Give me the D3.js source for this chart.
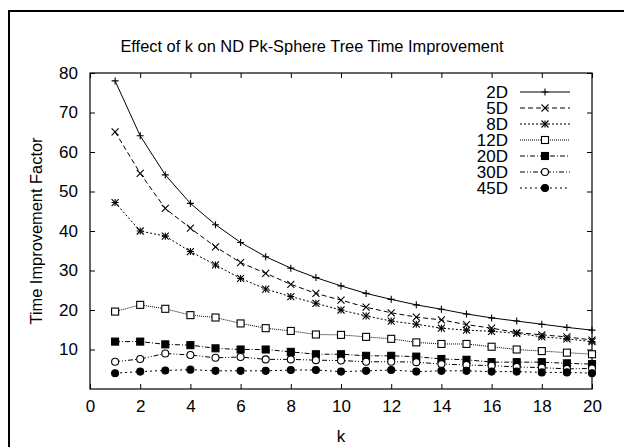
<!DOCTYPE html>
<html>
<head>
<meta charset="utf-8">
<script src="https://cdn.jsdelivr.net/npm/d3@7"></script>
<style>
  body { margin: 0; background: #fff; }
  svg { display: block; font-family: "Liberation Sans", Arial, sans-serif; }
</style>
</head>
<body>
<svg id="chart" width="624" height="447"></svg>
<script>
// values
var ks = d3.range(1, 21);
var d2  = [78.0, 64.1, 54.2, 47.0, 41.6, 37.1, 33.5, 30.6, 28.2, 26.1, 24.2, 22.7, 21.3, 20.2, 19.0, 18.0, 17.2, 16.4, 15.6, 14.9];
var d5  = [65.1, 54.6, 45.7, 40.7, 36.0, 32.0, 29.3, 26.5, 24.2, 22.5, 20.7, 19.3, 18.2, 17.5, 16.3, 15.4, 14.3, 13.7, 13.2, 12.4];
var d8  = [47.2, 40.0, 38.7, 34.8, 31.4, 28.0, 25.3, 23.4, 21.7, 20.0, 18.5, 17.2, 16.4, 15.4, 14.9, 14.6, 14.1, 13.2, 12.7, 12.0];
var d12 = [19.6, 21.3, 20.3, 18.7, 18.1, 16.6, 15.4, 14.7, 13.8, 13.7, 13.2, 12.7, 11.8, 11.4, 11.4, 10.7, 10.0, 9.6, 9.2, 8.8];
var d20 = [12.0, 12.0, 11.3, 11.1, 10.3, 10.0, 10.0, 9.4, 8.8, 8.8, 8.4, 8.4, 8.2, 7.6, 7.4, 6.8, 6.8, 6.8, 6.5, 6.3];
var d30 = [6.9, 7.6, 9.0, 8.6, 7.9, 8.1, 7.5, 7.5, 7.3, 7.2, 6.9, 6.9, 6.8, 6.3, 6.1, 5.9, 5.6, 5.4, 5.1, 5.2];
var d45 = [4.0, 4.4, 4.7, 4.9, 4.6, 4.6, 4.6, 4.8, 4.8, 4.4, 4.6, 4.8, 4.4, 4.6, 4.6, 4.4, 4.4, 4.2, 4.2, 4.0];

var xTicks = d3.range(0, 21, 2);
var yTicks = d3.range(10, 81, 10);

var SERIES = [
  { name: '2D',  values: d2,  dash: null,          marker: 'plus' },
  { name: '5D',  values: d5,  dash: '5,3',         marker: 'cross' },
  { name: '8D',  values: d8,  dash: '2,2',         marker: 'star' },
  { name: '12D', values: d12, dash: '1,1',         marker: 'square' },
  { name: '20D', values: d20, dash: '5,2,1,2',     marker: 'fsquare' },
  { name: '30D', values: d30, dash: '5,2,1,2,1,2', marker: 'circle' },
  { name: '45D', values: d45, dash: '2,3',         marker: 'fcircle' },
];

var svg = d3.select('#chart');
var pLeft = 90, pRight = 592, pTop = 73, pBottom = 389;

var x = d3.scaleLinear().domain([0, 20]).range([pLeft, pRight]);
var y = d3.scaleLinear().domain([0, 80]).range([pBottom, pTop]);

// outer frame (runs off the right and bottom edges)
svg.append('path')
    .attr('d', 'M9,447 V11 H624')
    .attr('fill', 'none')
    .attr('stroke', '#000')
    .attr('stroke-width', 2);

svg.append('text')
    .attr('x', 312).attr('y', 52)
    .attr('text-anchor', 'middle')
    .style('font-size', '16.4px')
    .text('Effect of k on ND Pk-Sphere Tree Time Improvement');

function styleAxis(g) {
  g.select('.domain').remove();
  g.selectAll('line').attr('stroke', '#000');
  g.selectAll('text').style('font-size', '17px').attr('fill', '#000');
  g.attr('font-family', null);
}

svg.append('g')
    .attr('transform', 'translate(0,' + pBottom + ')')
    .call(d3.axisBottom(x).tickValues(xTicks).tickSize(-5).tickPadding(11).tickFormat(d3.format('d')))
    .call(styleAxis);
svg.append('g')
    .attr('transform', 'translate(0,' + pTop + ')')
    .call(d3.axisTop(x).tickValues(xTicks).tickSize(-5).tickFormat(''))
    .call(styleAxis);
svg.append('g')
    .attr('transform', 'translate(' + pLeft + ',0)')
    .call(d3.axisLeft(y).tickValues(yTicks).tickSize(-5).tickPadding(12).tickFormat(d3.format('d')))
    .call(styleAxis);
svg.append('g')
    .attr('transform', 'translate(' + pRight + ',0)')
    .call(d3.axisRight(y).tickValues(yTicks).tickSize(-5).tickFormat(''))
    .call(styleAxis);

svg.append('rect')
    .attr('x', pLeft).attr('y', pTop)
    .attr('width', pRight - pLeft).attr('height', pBottom - pTop)
    .attr('fill', 'none')
    .attr('stroke', '#000')
    .attr('stroke-width', 1.2);

svg.append('text')
    .attr('x', x(10)).attr('y', 442)
    .attr('text-anchor', 'middle')
    .style('font-size', '17px')
    .text('k');

svg.append('text')
    .attr('transform', 'translate(42,' + ((pTop + pBottom) / 2) + ') rotate(-90)')
    .attr('text-anchor', 'middle')
    .style('font-size', '16.4px')
    .text('Time Improvement Factor');

function drawMarker(g, type, cx, cy) {
  var s = 3.5;
  if (type === 'plus' || type === 'star') {
    g.append('path').attr('d', 'M' + (cx - s) + ',' + cy + 'H' + (cx + s) + 'M' + cx + ',' + (cy - s) + 'V' + (cy + s))
      .attr('stroke', '#000').attr('stroke-width', 1.1);
  }
  if (type === 'cross' || type === 'star') {
    g.append('path').attr('d', 'M' + (cx - s) + ',' + (cy - s) + 'L' + (cx + s) + ',' + (cy + s) + 'M' + (cx - s) + ',' + (cy + s) + 'L' + (cx + s) + ',' + (cy - s))
      .attr('stroke', '#000').attr('stroke-width', 1.1);
  }
  if (type === 'square' || type === 'fsquare') {
    g.append('rect').attr('x', cx - s).attr('y', cy - s).attr('width', 2 * s).attr('height', 2 * s)
      .attr('fill', type === 'fsquare' ? '#000' : '#fff').attr('stroke', '#000').attr('stroke-width', 1.1);
  }
  if (type === 'circle' || type === 'fcircle') {
    g.append('circle').attr('cx', cx).attr('cy', cy).attr('r', s)
      .attr('fill', type === 'fcircle' ? '#000' : '#fff').attr('stroke', '#000').attr('stroke-width', 1.1);
  }
}

var line = d3.line().x((d, i) => x(ks[i])).y(d => y(d));

SERIES.forEach(function (s, si) {
  var g = svg.append('g');
  g.append('path')
      .attr('d', line(s.values))
      .attr('fill', 'none')
      .attr('stroke', '#000')
      .attr('stroke-width', 1)
      .attr('stroke-dasharray', s.dash);
  s.values.forEach(function (v, i) { drawMarker(g, s.marker, x(ks[i]), y(v)); });

  // legend row
  var ly = 92 + si * 16;
  g.append('text')
      .attr('x', 508).attr('y', ly)
      .attr('dy', '0.36em')
      .attr('text-anchor', 'end')
      .style('font-size', '17px')
      .text(s.name);
  g.append('line')
      .attr('x1', 520).attr('x2', 570).attr('y1', ly).attr('y2', ly)
      .attr('stroke', '#000').attr('stroke-width', 1)
      .attr('stroke-dasharray', s.dash);
  drawMarker(g, s.marker, 545, ly);
});
</script>
</body>
</html>
